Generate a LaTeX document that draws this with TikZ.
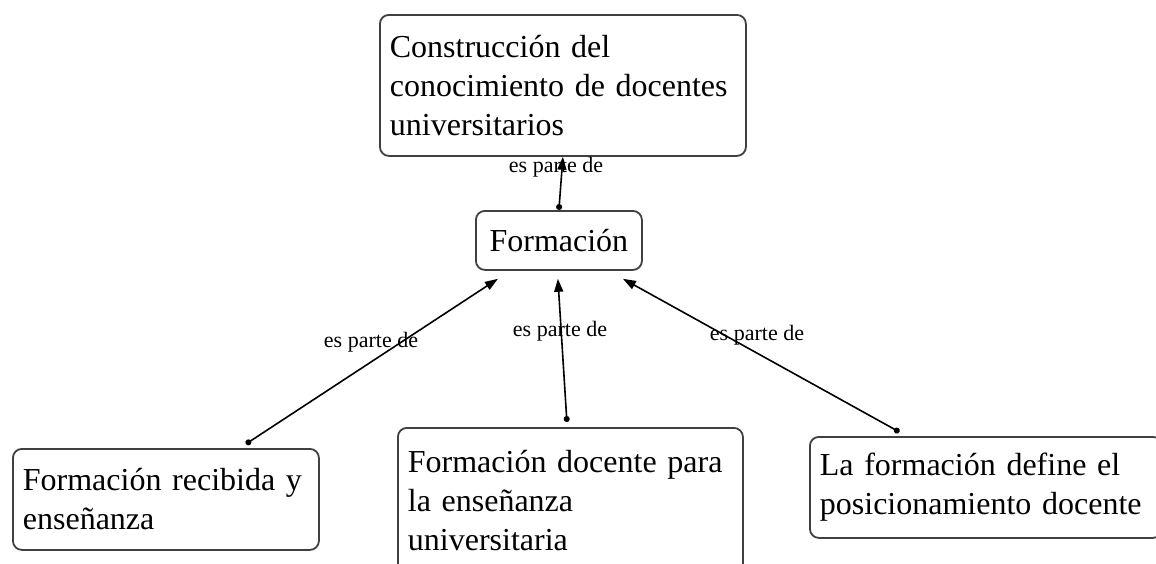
\documentclass[tikz,border=0pt]{standalone}
\usepackage{fontspec}
\setmainfont{Liberation Serif}
\usetikzlibrary{arrows.meta}
\begin{document}
\begin{tikzpicture}[x=1pt,y=-1pt,
  box/.style={draw=black!75, line width=1.8pt, rounded corners=9pt, anchor=north west,
    inner xsep=10pt, inner ysep=0pt, align=left, font=\fontsize{32}{39}\selectfont},
  rel/.style={line width=1.6pt, {Circle[length=6pt]}-{Triangle[length=13pt,width=9pt]}},
  lbl/.style={font=\fontsize{22}{24}\selectfont, inner sep=0pt}]
\useasboundingbox (0,0) rectangle (1156,563);
\node[box, minimum width=366pt, minimum height=141pt, text width=346pt] (top) at (379,14)
  {Construcción del\\conocimiento de docentes\\universitarios};
\node[box, minimum width=166pt, minimum height=59pt, text width=146pt, align=center] (form) at (475,210)
  {Formación};
\node[box, minimum width=306pt, minimum height=101pt, text width=286pt] (left) at (12,448)
  {Formación recibida y\\enseñanza};
\node[box, minimum width=345pt, minimum height=145pt, text width=325pt] (mid) at (397,427)
  {Formación docente para\\la enseñanza\\universitaria};
\node[box, minimum width=352pt, minimum height=101pt, text width=332pt] (right) at (809,436)
  {La formación define el\\posicionamiento docente};
\draw[rel] (form.north) -- (top.south);
\draw[rel] ([shift={(80pt,4pt)}]left.north) -- ([shift={(-61pt,-8pt)}]form.south);
\draw[rel] ([shift={(-3.5pt,5pt)}]mid.north) -- ([shift={(-1pt,-8pt)}]form.south);
\draw[rel] ([shift={(-86.5pt,4pt)}]right.north) -- ([shift={(64pt,-8pt)}]form.south);
\node[lbl] (l0) at (556,167) {es parte de};
\node[lbl] (l1) at (371,342) {es parte de};
\node[lbl] (l2) at (560,331) {es parte de};
\node[lbl] (l3) at (757,335) {es parte de};
\end{tikzpicture}
\end{document}
